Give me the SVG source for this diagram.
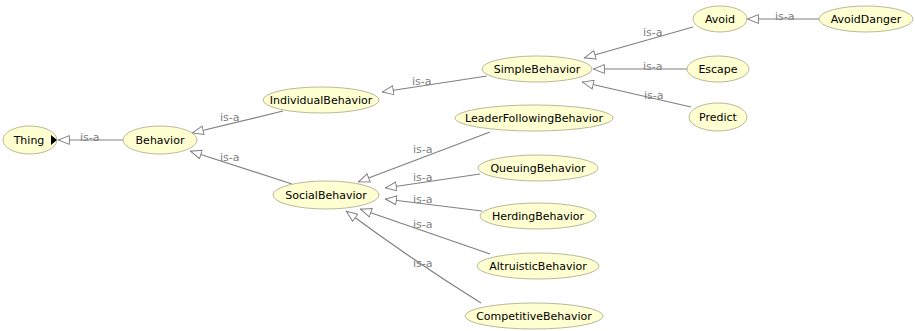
<svg xmlns="http://www.w3.org/2000/svg" width="915" height="331" viewBox="0 0 915 331">
<style>
.n ellipse{fill:#ffffd2;stroke:#b9b99a;stroke-width:1}
.n text{font-family:"DejaVu Sans",sans-serif;font-size:11px;fill:#000;text-anchor:middle}
.e path{fill:none;stroke:#808080;stroke-width:1.2;marker-end:url(#tri)}
.l{font-family:"DejaVu Sans",sans-serif;font-size:11px;fill:#808080}
</style>
<defs>
<marker id="tri" viewBox="0 0 12 10" refX="12" refY="5" markerWidth="12" markerHeight="10" markerUnits="userSpaceOnUse" orient="auto">
<path d="M0.6,0.6 L11.5,5 L0.6,9.4 z" fill="#fff" stroke="#808080" stroke-width="1"/>
</marker>
</defs>
<rect width="915" height="331" fill="#fff"/>
<g id="connectors" class="e">
<path d="M123,140 L58,140"/>
<path d="M283,111 L192,133"/>
<path d="M292,184 L190,151"/>
<path d="M487,76 L382,92"/>
<path d="M693,27 L584,58"/>
<path d="M687,69 L593,69"/>
<path d="M691,107 L582,82"/>
<path d="M819,19 L747,19"/>
<path d="M490,132 L358,182"/>
<path d="M480,174 L385,188"/>
<path d="M482,211 L385,199"/>
<path d="M490,254 L360,209"/>
<path d="M481,303 Q415,262 346,211"/>
</g>
<g id="labels">
<text class="l" x="80" y="141">is-a</text>
<text class="l" x="220" y="121">is-a</text>
<text class="l" x="220" y="161">is-a</text>
<text class="l" x="412" y="85">is-a</text>
<text class="l" x="643" y="36">is-a</text>
<text class="l" x="643" y="70">is-a</text>
<text class="l" x="644" y="99">is-a</text>
<text class="l" x="775" y="20">is-a</text>
<text class="l" x="413" y="153">is-a</text>
<text class="l" x="413" y="181">is-a</text>
<text class="l" x="413" y="203">is-a</text>
<text class="l" x="413" y="228">is-a</text>
<text class="l" x="413" y="267">is-a</text>
</g>
<g id="Thing" class="n"><ellipse cx="30" cy="140" rx="27" ry="14"/><text x="29" y="144">Thing</text><polygon points="51,135 57,140 51,145" fill="#000"/></g>
<g id="Behavior" class="n"><ellipse cx="160" cy="140" rx="37" ry="14"/><text x="160" y="144">Behavior</text></g>
<g id="IndividualBehavior" class="n"><ellipse cx="321" cy="100" rx="58" ry="13"/><text x="321" y="104">IndividualBehavior</text></g>
<g id="SimpleBehavior" class="n"><ellipse cx="537" cy="69" rx="55" ry="13"/><text x="537" y="73">SimpleBehavior</text></g>
<g id="Avoid" class="n"><ellipse cx="720" cy="19" rx="27" ry="13"/><text x="720" y="23">Avoid</text></g>
<g id="AvoidDanger" class="n"><ellipse cx="866" cy="19" rx="47" ry="13"/><text x="866" y="23">AvoidDanger</text></g>
<g id="Escape" class="n"><ellipse cx="718" cy="69" rx="31" ry="13"/><text x="718" y="73">Escape</text></g>
<g id="Predict" class="n"><ellipse cx="718" cy="117" rx="29" ry="14"/><text x="718" y="121">Predict</text></g>
<g id="LeaderFollowingBehavior" class="n"><ellipse cx="534" cy="118" rx="79" ry="13"/><text x="534" y="122">LeaderFollowingBehavior</text></g>
<g id="SocialBehavior" class="n"><ellipse cx="326" cy="195" rx="53" ry="14"/><text x="326" y="199">SocialBehavior</text></g>
<g id="QueuingBehavior" class="n"><ellipse cx="538" cy="168" rx="60" ry="13"/><text x="538" y="172">QueuingBehavior</text></g>
<g id="HerdingBehavior" class="n"><ellipse cx="538" cy="216" rx="58" ry="13"/><text x="538" y="220">HerdingBehavior</text></g>
<g id="AltruisticBehavior" class="n"><ellipse cx="538" cy="266" rx="61" ry="13"/><text x="538" y="270">AltruisticBehavior</text></g>
<g id="CompetitiveBehavior" class="n"><ellipse cx="534" cy="316" rx="69" ry="13"/><text x="534" y="320">CompetitiveBehavior</text></g>
</svg>
